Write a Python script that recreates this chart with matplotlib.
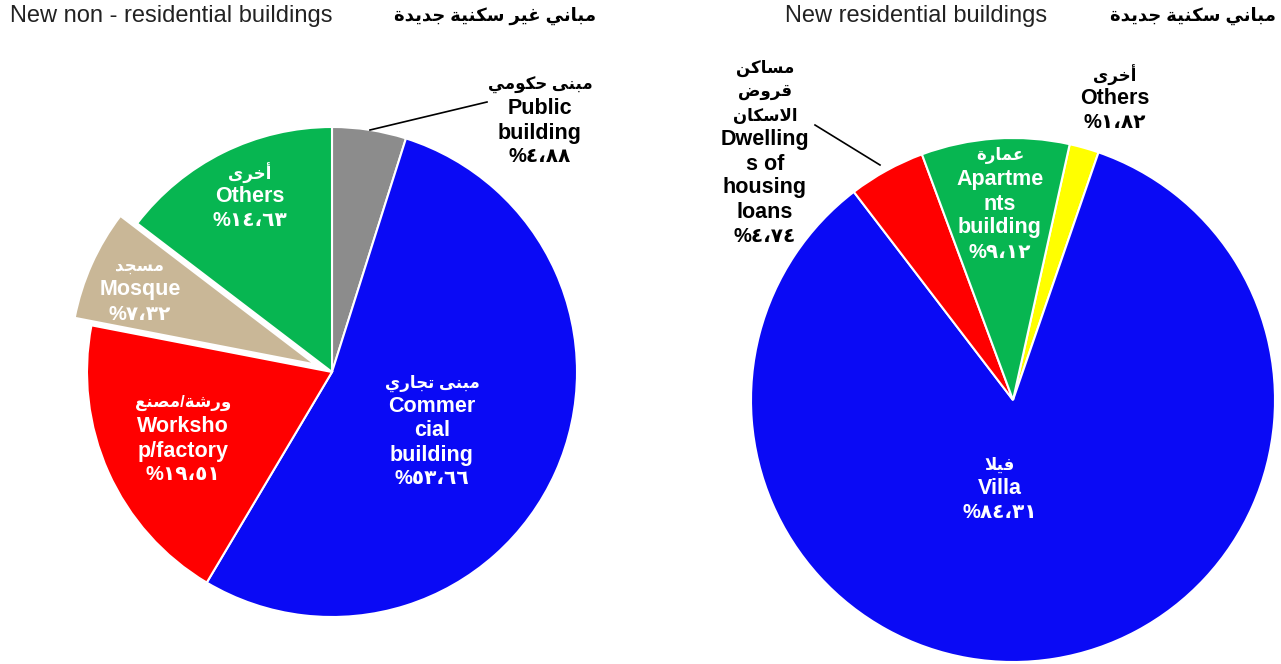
import matplotlib
matplotlib.use("Agg")
import matplotlib.pyplot as plt

plt.rcParams['font.family'] = ['Liberation Sans', 'DejaVu Sans']

# Data: non-residential buildings (left pie)
nonres_ar = ['مبنى حكومي', 'مبنى تجاري', 'ورشة/مصنع', 'مسجد', 'أخرى']
nonres_en = ['Public\nbuilding', 'Commer\ncial\nbuilding', 'Worksho\np/factory', 'Mosque', 'Others']
nonres_values = [4.88, 53.66, 19.51, 7.32, 14.63]
nonres_colors = ['#8C8C8C', '#0A0AF5', '#FF0000', '#C9B797', '#07B651']

# Data: residential buildings (right pie)
res_ar = ['أخرى', 'فيلا', 'مساكن\nقروض\nالاسكان', 'عمارة']
res_en = ['Others', 'Villa', 'Dwelling\ns of\nhousing\nloans', 'Apartme\nnts\nbuilding']
res_values = [1.82, 84.31, 4.74, 9.12]
res_colors = ['#FFFF00', '#0A0AF5', '#FF0000', '#07B651']

# Titles
title_left_en = 'New non - residential buildings'
title_left_ar = 'مباني غير سكنية جديدة'
title_right_en = 'New residential buildings'
title_right_ar = 'مباني سكنية جديدة'

# --- minimal Arabic shaping (presentation forms) so matplotlib draws joined letters ---
AR_FORMS = {
    'ا': (0xFE8D, 2), 'أ': (0xFE83, 2), 'ب': (0xFE8F, 4), 'ة': (0xFE93, 2),
    'ت': (0xFE95, 4), 'ج': (0xFE9D, 4), 'ح': (0xFEA1, 4), 'خ': (0xFEA5, 4),
    'د': (0xFEA9, 2), 'ر': (0xFEAD, 2), 'س': (0xFEB1, 4), 'ش': (0xFEB5, 4),
    'ص': (0xFEB9, 4), 'ض': (0xFEBD, 4), 'ع': (0xFEC9, 4), 'غ': (0xFECD, 4),
    'ف': (0xFED1, 4), 'ق': (0xFED5, 4), 'ك': (0xFED9, 4), 'ل': (0xFEDD, 4),
    'م': (0xFEE1, 4), 'ن': (0xFEE5, 4), 'ه': (0xFEE9, 4), 'و': (0xFEED, 2),
    'ى': (0xFEEF, 2), 'ي': (0xFEF1, 4),
}


def shape_line(text):
    out = []
    i = 0
    while i < len(text):
        c = text[i]
        if c not in AR_FORMS:
            out.append(c)
            i += 1
            continue
        prev = text[i - 1] if i > 0 else ''
        link_prev = prev in AR_FORMS and AR_FORMS[prev][1] == 4
        if c == 'ل' and i + 1 < len(text) and text[i + 1] == 'ا':
            out.append(chr(0xFEFC if link_prev else 0xFEFB))
            i += 2
            continue
        nxt = text[i + 1] if i + 1 < len(text) else ''
        link_next = AR_FORMS[c][1] == 4 and nxt in AR_FORMS
        base = AR_FORMS[c][0]
        if link_prev and link_next:
            g = base + 3
        elif link_prev:
            g = base + 1
        elif link_next:
            g = base + 2
        else:
            g = base
        out.append(chr(g))
        i += 1
    return ''.join(out)[::-1]


def pct(v):
    digits = str.maketrans('0123456789.', '٠١٢٣٤٥٦٧٨٩،')
    return '%' + f'{v:.2f}'.translate(digits)


H = 664
STEP = 24
fig = plt.figure(figsize=(12.81, 6.64), dpi=100)
ax = fig.add_axes([0, 0, 1, 1])

# left pie
c_left = (332, H - 372)
r_left = 245
ax.pie(nonres_values, colors=nonres_colors, startangle=90, counterclock=False,
       center=c_left, radius=r_left, explode=[0, 0, 0, 0.075 * r_left, 0],
       wedgeprops=dict(edgecolor='white', linewidth=1.5))

# right pie
c_right = (1013, H - 400)
r_right = 262
ax.pie(res_values, colors=res_colors, startangle=77.5, counterclock=False,
       center=c_right, radius=r_right,
       wedgeprops=dict(edgecolor='white', linewidth=1.5))

ax.set_xlim(0, 1281)
ax.set_ylim(0, H)
ax.set_aspect('auto')
ax.axis('off')


def draw_label(x, y_top, ar_txt, en_txt, value, col):
    y = y_top
    for line in ar_txt.split('\n'):
        ax.text(x, H - y, shape_line(line), ha='center', va='center', color=col,
                fontsize=12, fontweight='bold')
        y += STEP
    for line in en_txt.split('\n'):
        ax.text(x, H - y, line, ha='center', va='center', color=col,
                fontsize=15.5, fontweight='bold')
        y += STEP
    ax.text(x, H - y, pct(value), ha='center', va='center', color=col,
            fontsize=14.5, fontweight='bold')


# label placement (pixel coords from top of first line), text colour
left_pos = [(540, 85, 'black'), (432, 383, 'white'), (183, 403, 'white'),
            (140, 266, 'white'), (250, 173, 'white')]
right_pos = [(1115, 75, 'black'), (1000, 465, 'white'), (765, 68, 'black'),
             (1000, 156, 'white')]

for i, (x, y, col) in enumerate(left_pos):
    draw_label(x, y, nonres_ar[i], nonres_en[i], nonres_values[i], col)
for i, (x, y, col) in enumerate(right_pos):
    draw_label(x, y, res_ar[i], res_en[i], res_values[i], col)

# leader lines
ax.plot([370, 487], [H - 130, H - 102], color='black', lw=1.2)
ax.plot([880, 815], [H - 165, H - 125], color='black', lw=1.2)

# titles
ax.text(10, H - 16, title_left_en, ha='left', va='center', fontsize=17, color='#222222')
ax.text(596, H - 16, shape_line(title_left_ar), ha='right', va='center', fontsize=13,
        fontweight='bold', color='black')
ax.text(785, H - 16, title_right_en, ha='left', va='center', fontsize=17, color='#222222')
ax.text(1276, H - 16, shape_line(title_right_ar), ha='right', va='center', fontsize=13,
        fontweight='bold', color='black')

fig.savefig('out.png', dpi=100)
